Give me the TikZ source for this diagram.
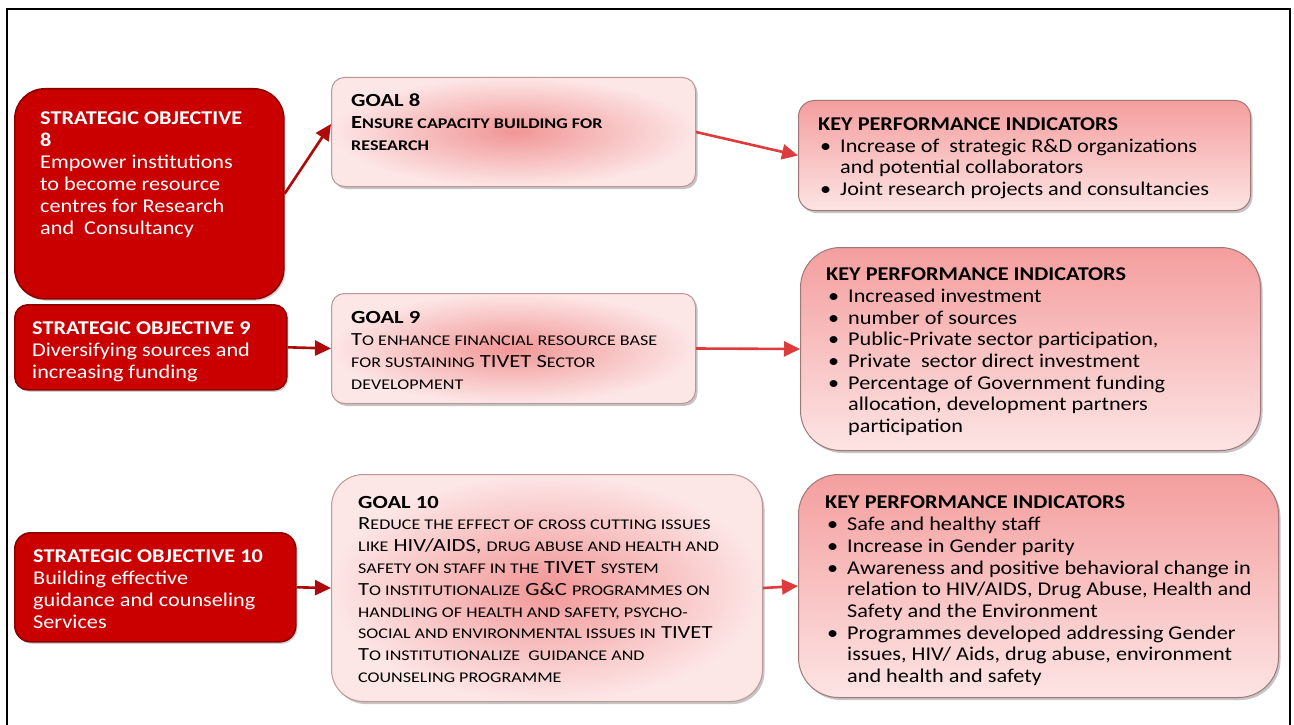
\documentclass[tikz,border=0pt]{standalone}
\usepackage{fontspec}
\setmainfont{Carlito}
\newfontfamily\wfont[FakeStretch=1.14]{Carlito}
\newfontfamily\gfont[FakeStretch=1.22]{Carlito}
\usetikzlibrary{arrows.meta,shadows,calc}
\definecolor{sored}{RGB}{202,0,0}
\definecolor{soedge}{RGB}{140,0,0}
\definecolor{arrdark}{RGB}{175,10,10}
\definecolor{arrlight}{RGB}{222,60,60}
\definecolor{gin}{RGB}{241,150,150}
\definecolor{gout}{RGB}{253,230,230}
\definecolor{gedge}{RGB}{190,150,150}
\definecolor{ktop}{RGB}{244,158,158}
\definecolor{kbot}{RGB}{253,228,228}
\definecolor{kedge}{RGB}{160,120,120}
\newcommand\fakesc[1]{{\fontsize{14.8}{21.8}\selectfont\MakeUppercase{#1}}}
\newcommand\kbul{\hspace*{2pt}\makebox[20pt][l]{\textbullet}}
\newcommand\kind{\hspace*{22pt}}
\tikzset{
  sobox/.style={draw=soedge, line width=1.6pt, fill=sored, anchor=north west, inner sep=0pt,
     drop shadow={shadow xshift=1.5pt, shadow yshift=-2pt, opacity=0.35}},
  goalbox/.style={draw=gedge, line width=1pt, inner color=gin, outer color=gout, anchor=north west, inner sep=0pt,
     drop shadow={shadow xshift=2pt, shadow yshift=-2.5pt, opacity=0.45}},
  kpibox/.style={draw=kedge, line width=1pt, top color=ktop, bottom color=kbot, anchor=north west, inner sep=0pt,
     drop shadow={shadow xshift=2pt, shadow yshift=-2.5pt, opacity=0.45}},
  sotext/.style={anchor=base west, align=left, inner sep=0pt, text=white, font=\wfont\fontsize{19.5}{22}\selectfont},
  gtext/.style={anchor=base west, align=left, inner sep=0pt, text=black, font=\gfont\fontsize{18.5}{21.8}\selectfont},
  ktext/.style={anchor=base west, align=left, inner sep=0pt, text=black, font=\wfont\fontsize{19.5}{21.7}\selectfont},
  darrow/.style={draw=arrdark, line width=2.6pt, -{Triangle[length=16pt,width=15pt]}},
  larrow/.style={draw=arrlight, line width=2.6pt, -{Triangle[length=16pt,width=15pt]}}
}
\begin{document}
\begin{tikzpicture}[x=1pt,y=1pt]
\useasboundingbox (0,0) rectangle (1294,-725);
\fill[white] (0,0) rectangle (1294,-725);
\draw[line width=2pt, line cap=rect] (7,-725) -- (7,-9) -- (1290,-9) -- (1290,-725);

% strategic objectives
\node[sobox, rounded corners=30pt, minimum width=269pt, minimum height=210pt] (so8) at (14,-88) {};
\node[sobox, rounded corners=13pt, minimum width=272pt, minimum height=85pt] (so9) at (14,-304) {};
\node[sobox, rounded corners=16pt, minimum width=281pt, minimum height=109pt] (so10) at (14,-532) {};

% goals
\node[goalbox, rounded corners=13pt, minimum width=364pt, minimum height=109pt] (g8) at (331,-77) {};
\node[goalbox, rounded corners=13pt, minimum width=364pt, minimum height=110pt] (g9) at (331,-293) {};
\node[goalbox, rounded corners=32pt, minimum width=431pt, minimum height=227pt] (g10) at (331,-474) {};

% KPIs
\node[kpibox, rounded corners=16pt, minimum width=452pt, minimum height=110pt] (k8) at (798,-100) {};
\node[kpibox, rounded corners=40pt, minimum width=460pt, minimum height=203pt] (k9) at (800,-247) {};
\node[kpibox, rounded corners=40pt, minimum width=480pt, minimum height=223pt] (k10) at (798,-474) {};

% texts (anchor = baseline of last line)
\node[sotext] (so8t) at (40,-234) {\textbf{STRATEGIC OBJECTIVE}\\ \textbf{8}\\ Empower institutions\\ to become resource\\ centres for Research\\ and\ \ Consultancy};
\node[sotext] (so9t) at (32,-378) {\textbf{STRATEGIC OBJECTIVE 9}\\ Diversifying sources and\\ increasing funding};
\node[sotext] (so10t) at (33,-628.5) {\textbf{STRATEGIC OBJECTIVE 10}\\ Building effective\\ guidance and counseling\\ Services};

\node[gtext] (g8t) at (351,-150) {\textbf{GOAL 8}\\ \textbf{E\fakesc{nsure capacity building for}}\\ \textbf{\fakesc{research}}};
\node[gtext] (g9t) at (351,-389) {\textbf{GOAL 9}\\ T\fakesc{o enhance financial resource base}\\ \fakesc{for sustaining} TIVET S\fakesc{ector}\\ \fakesc{development}};
\node[gtext] (g10t) at (358,-682.5) {\textbf{GOAL 10}\\
 R\fakesc{educe the effect of cross cutting issues}\\
 \fakesc{like} HIV/AIDS, \fakesc{drug abuse and health and}\\
 \fakesc{safety on staff in the} TIVET \fakesc{system}\\
 T\fakesc{o institutionalize} G\&C \fakesc{programmes on}\\
 \fakesc{handling of health and safety, psycho-}\\
 \fakesc{social and environmental issues in} TIVET\\
 T\fakesc{o institutionalize\ \ guidance and}\\
 \fakesc{counseling programme}};

\node[ktext] (k8t) at (818,-195.5) {\textbf{KEY PERFORMANCE INDICATORS}\\
 \kbul Increase of\ \ strategic R\&D organizations\\
 \kind and potential collaborators\\
 \kbul Joint research projects and consultancies};
\node[ktext] (k9t) at (826,-432.5) {\textbf{KEY PERFORMANCE INDICATORS}\\
 \kbul Increased investment\\
 \kbul number of sources\\
 \kbul Public-Private sector participation,\\
 \kbul Private\ \ sector direct investment\\
 \kbul Percentage of Government funding\\
 \kind allocation, development partners\\
 \kind participation};
\node[ktext] (k10t) at (825,-682.5) {\textbf{KEY PERFORMANCE INDICATORS}\\
 \kbul Safe and healthy staff\\
 \kbul Increase in Gender parity\\
 \kbul Awareness and positive behavioral change in\\
 \kind relation to HIV/AIDS, Drug Abuse, Health and\\
 \kind Safety and the Environment\\
 \kbul Programmes developed addressing Gender\\
 \kind issues, HIV/ Aids, drug abuse, environment\\
 \kind and health and safety};

% connectors
\draw[darrow] (so8.east) -- ($(g8.west)+(0,8)$);
\draw[darrow] (so9.east) -- (g9.west);
\draw[darrow] (so10.east) -- (g10.west);
\draw[larrow] (g8.east) -- (k8.west);
\draw[larrow] (g9.east) -- (k9.west);
\draw[larrow] (g10.east) -- (k10.west);
\end{tikzpicture}
\end{document}
